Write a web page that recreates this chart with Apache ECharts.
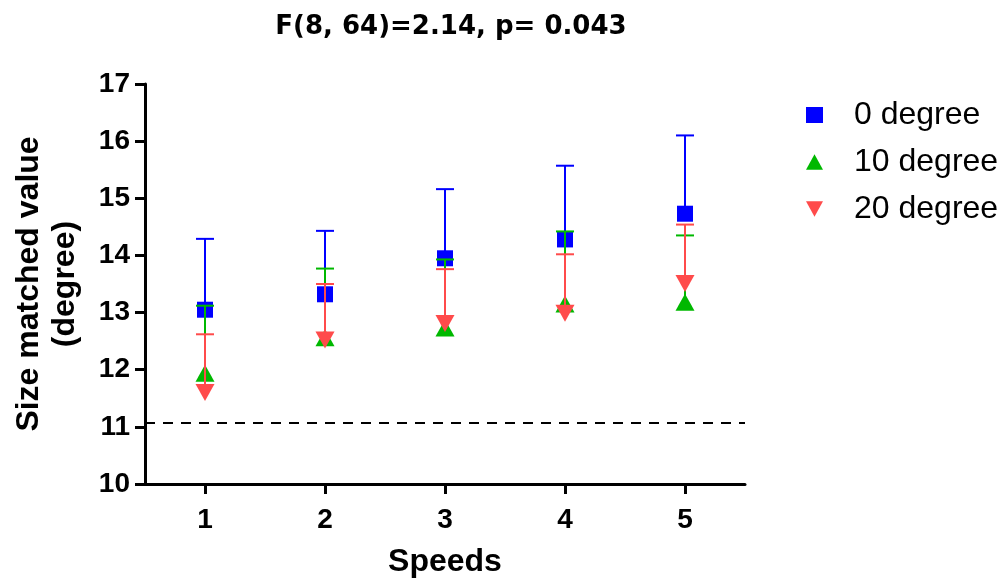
<!DOCTYPE html>
<html>
<head>
<meta charset="utf-8">
<script src="https://cdn.jsdelivr.net/npm/echarts@6/dist/echarts.min.js"></script>
<style>
html,body{margin:0;padding:0;background:#fff;}
#chart{width:1006px;height:579px;}
</style>
</head>
<body>
<div id="chart"></div>
<script>
// ---- data ----
var categories = ['1', '2', '3', '4', '5'];
var seriesNames = ['0 degree', '10 degree', '20 degree'];
var mean0  = [13.05, 13.32, 13.95, 14.28, 14.73];
var upper0 = [14.29, 14.43, 15.16, 15.57, 16.10];
var mean10  = [11.94, 12.56, 12.73, 13.15, 13.18];
var upper10 = [13.12, 13.77, 13.93, 14.42, 14.35];
var mean20  = [11.60, 12.52, 12.81, 12.99, 13.51];
var upper20 = [12.62, 13.50, 13.76, 14.02, 14.54];
var referenceLine = 11.07;
var yTicks = [10, 11, 12, 13, 14, 15, 16, 17];
var titleText = 'F(8, 64)=2.14, p= 0.043';
var xName = 'Speeds';
var yName = 'Size matched value\n(degree)';

// ---- styling ----
var colors = ['#0000FF', '#00B800', '#FF4B4B'];
var symbols = ['rect', 'triangle', 'triangle'];
var rotations = [0, 0, 180];
var sizes = [[16, 16], [19, 17], [19, 17]];
var means = [mean0, mean10, mean20];
var uppers = [upper0, upper10, upper20];

function errData(m, u) {
  return categories.map(function (c, i) { return [i, m[i], u[i]]; });
}

function errRender(color) {
  return function (params, api) {
    var x = api.value(0);
    var p0 = api.coord([x, api.value(1)]);
    var p1 = api.coord([x, api.value(2)]);
    var half = 9;
    var style = { stroke: color, lineWidth: 2, fill: null };
    return {
      type: 'group',
      children: [
        { type: 'line', shape: { x1: p0[0], y1: p0[1], x2: p1[0], y2: p1[1] }, style: style },
        { type: 'line', shape: { x1: p1[0] - half, y1: p1[1], x2: p1[0] + half, y2: p1[1] }, style: style }
      ]
    };
  };
}

var series = [];
for (var k = 0; k < 3; k++) {
  series.push({
    name: 'err' + k,
    type: 'custom',
    renderItem: errRender(colors[k]),
    data: errData(means[k], uppers[k]),
    encode: { x: 0, y: [1, 2] },
    z: 2 + 2 * k,
    silent: true,
    clip: false
  });
  var s = {
    name: seriesNames[k],
    type: 'scatter',
    data: means[k].map(function (v, i) { return [i, v]; }),
    symbol: symbols[k],
    symbolSize: sizes[k],
    symbolRotate: rotations[k],
    itemStyle: { color: colors[k], opacity: 1 },
    z: 3 + 2 * k,
    silent: true
  };
  if (k === 0) {
    s.markLine = {
      silent: true,
      symbol: ['none', 'none'],
      label: { show: false },
      lineStyle: { color: '#000', width: 2, type: [10, 8] },
      data: [{ yAxis: referenceLine }]
    };
  }
  series.push(s);
}

var chart = echarts.init(document.getElementById('chart'), null, { renderer: 'canvas' });
chart.setOption({
  animation: false,
  backgroundColor: '#fff',
  title: {
    text: titleText,
    left: 446,
    textAlign: 'center',
    top: 9,
    textStyle: { fontFamily: 'DejaVu Sans', fontWeight: 'bold', fontSize: 26, color: '#000' }
  },
  legend: {
    orient: 'vertical',
    left: 801,
    top: 93,
    itemWidth: 17,
    itemHeight: 16,
    itemGap: 13,
    selectedMode: false,
    data: [
      { name: seriesNames[0], icon: 'rect' },
      { name: seriesNames[1], icon: 'path://M5,0L10,9L0,9Z' },
      { name: seriesNames[2], icon: 'path://M0,0L10,0L5,9Z' }
    ],
    textStyle: { fontFamily: 'Liberation Sans', fontSize: 32, color: '#000', lineHeight: 34, padding: [0, 0, 0, 26] }
  },
  grid: { left: 145, right: 261, top: 84, bottom: 95, containLabel: false, outerBoundsMode: 'none' },
  xAxis: {
    type: 'category',
    data: categories,
    boundaryGap: true,
    name: xName,
    nameLocation: 'middle',
    nameGap: 62,
    nameTextStyle: { fontFamily: 'Liberation Sans', fontWeight: 'bold', fontSize: 32, color: '#000' },
    axisLine: { show: true, lineStyle: { color: '#000', width: 3 } },
    axisTick: { show: true, alignWithLabel: true, length: 10, lineStyle: { color: '#000', width: 3 } },
    axisLabel: { margin: 22, fontFamily: 'Liberation Sans', fontWeight: 'bold', fontSize: 28, color: '#000' },
    splitLine: { show: false }
  },
  yAxis: {
    type: 'value',
    min: yTicks[0],
    max: yTicks[yTicks.length - 1],
    interval: 1,
    name: yName,
    nameLocation: 'middle',
    nameRotate: 90,
    nameGap: 62,
    nameTextStyle: { fontFamily: 'Liberation Sans', fontWeight: 'bold', fontSize: 32, lineHeight: 36, color: '#000' },
    axisLine: { show: true, lineStyle: { color: '#000', width: 3 } },
    axisTick: { show: true, length: 10, lineStyle: { color: '#000', width: 3 } },
    axisLabel: { margin: 15, fontFamily: 'Liberation Sans', fontWeight: 'bold', fontSize: 28, color: '#000' },
    splitLine: { show: false }
  },
  series: series
});
</script>
</body>
</html>
